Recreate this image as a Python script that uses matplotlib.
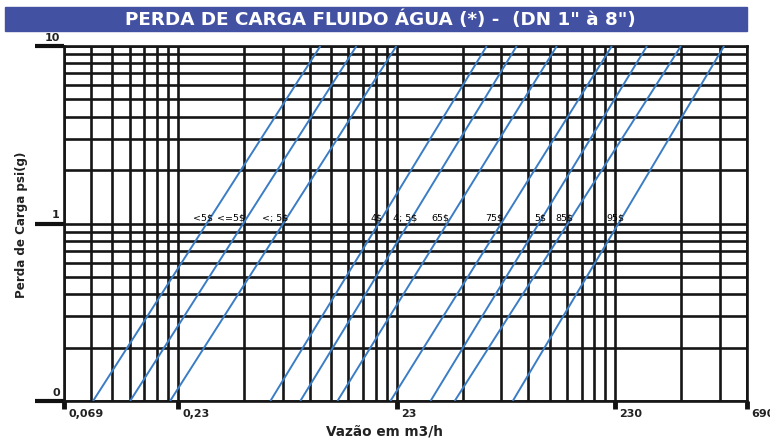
import numpy as np
import matplotlib
matplotlib.use('Agg')
import matplotlib.pyplot as plt
from matplotlib.patches import Rectangle

# blue lines: flow at bottom (0.1 psi) and top (10 psi) of the chart
line_names = ['<5$', '<=5$', '<; 5$', '4$', '4; 5$', '65$', '75$', '5$', '85$', '95$']
q_bottom = [0.0937, 0.1385, 0.211, 0.607, 0.832, 1.23, 2.15, 3.28, 4.23, 7.80]
q_top = [1.028, 1.503, 2.29, 5.93, 8.13, 12.41, 22.16, 32.07, 45.9, 72.3]
label_x = [0.333, 0.466, 0.733, 1.978, 2.861, 4.01, 7.02, 11.05, 14.84, 25.4]
p_range = [0.1, 10]

# axis ticks (positions and printed labels)
x_ticks = [0.069, 0.23, 2.3, 23, 92]
x_ticklabels = ['0,069', '0,23', '23', '230', '690']
y_ticks = [0.1, 1, 10]
y_ticklabels = ['0', '1', '10']

GRID = '#161616'
BLUE = '#3a7dc6'

fig = plt.figure(figsize=(7.7, 4.39), dpi=100)
ax = fig.add_axes([64/770, 1-402/439, (747-64)/770, (402-47)/439])

ax.set_xscale('log')
ax.set_yscale('log')
ax.set_xlim(0.069, 92)
ax.set_ylim(0.1, 10)

# grid (log decades)
xg = [m*b for b in (0.023, 0.23, 2.3, 23) for m in range(1, 10)]
xg = [v for v in xg if 0.069 <= v <= 92] + [92]
for v in xg:
    ax.axvline(v, color=GRID, lw=1.9, zorder=1)
yg = [m*b for b in (0.1, 1) for m in range(1, 10)] + [10]
for v in yg:
    ax.axhline(v, color=GRID, lw=1.9, zorder=1)

for qb, qt in zip(q_bottom, q_top):
    ax.plot([qb, qt], p_range, color=BLUE, lw=1.4, zorder=3, solid_capstyle='butt')

for name, lx in zip(line_names, label_x):
    ax.text(lx, 1.02, name, ha='right', va='bottom', fontsize=6.8, zorder=4)

for s in ax.spines.values():
    s.set_color(GRID)
    s.set_linewidth(1.9)

ax.set_xticks(x_ticks)
ax.set_xticklabels([])
ax.set_yticks(y_ticks)
ax.set_yticklabels([])
ax.minorticks_off()
ax.tick_params(axis='x', length=6, width=3.5, color='#111111', direction='out')
ax.tick_params(axis='y', length=21, width=3, color='#111111', direction='out')

for v, t in zip(x_ticks, x_ticklabels):
    ax.annotate(t, xy=(v, 0), xycoords=('data', 'axes fraction'), xytext=(3, -5),
                textcoords='offset points', ha='left', va='top',
                fontsize=8, fontweight='bold', color='#222222', annotation_clip=False)
for v, t in zip(y_ticks, y_ticklabels):
    ax.annotate(t, xy=(0, v), xycoords=('axes fraction', 'data'), xytext=(-3, 3),
                textcoords='offset points', ha='right', va='bottom',
                fontsize=8, fontweight='bold', color='#222222', annotation_clip=False)

fig.text(384/770, 1-432/439, 'Vazão em m3/h', ha='center', va='center',
         fontsize=9.8, fontweight='bold', color='#222222')
fig.text(22/770, 1-225/439, 'Perda de Carga psi(g)', ha='center', va='center',
         rotation=90, fontsize=8.6, fontweight='bold', color='#222222')

# title bar
fig.patches.append(Rectangle((5/770, 1-32/439), (747-5)/770, 24/439,
                             transform=fig.transFigure, color='#4351a3', zorder=0))
fig.text(380/770, 1-20/439, 'PERDA DE CARGA FLUIDO ÁGUA (*) -  (DN 1" à 8")',
         ha='center', va='center', fontsize=13.2, fontweight='bold', color='white')

fig.savefig('out.png', dpi=100)
